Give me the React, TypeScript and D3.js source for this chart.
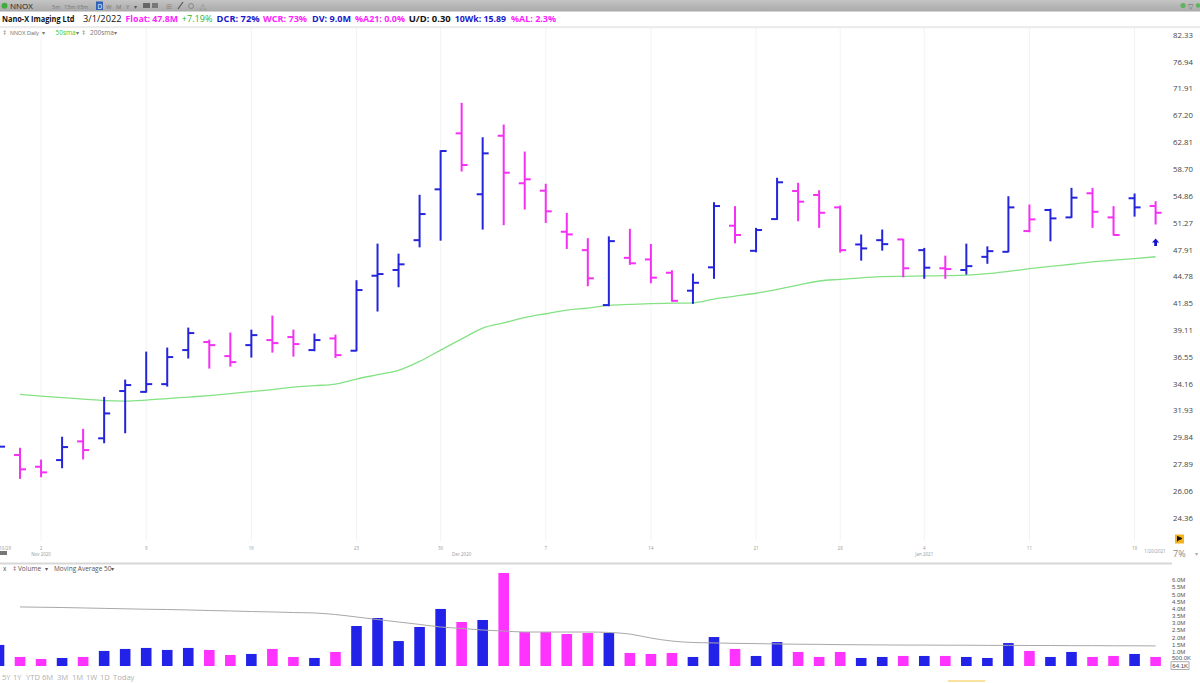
import * as d3 from "d3";

// ---- price pane data (daily bars Oct 29 2020 .. Jan 20 2021)
const priceTicks = [82.33, 76.94, 71.91, 67.2, 62.81, 58.7, 54.86, 51.27, 47.91, 44.78, 41.85, 39.11, 36.55, 34.16, 31.93, 29.84, 27.89, 26.06, 24.36];

const opens = [28.19, 28.55, 27.72, 28.19, 29.55, 29.78, 33.55, 33.48, 34.14, 37.2, 37.96, 36.64, 37.67, 38.15, 38.44, 37.2, 38.31, 37.14, 44.87, 45.52, 49.08, 55.79, 64.25, 55.1, 63.86, 56.65, 55.6, 50.13, 47.86, 41.67, 46.94, 46.75, 45.21, 43.21, 45.83, 50.9, 47.78, 51.76, 55.56, 55.0, 53.31, 48.55, 49.08, 49.17, 47.86, 45.72, 45.52, 47.06, 47.66, 50.22, 52.96, 51.98, 55.24, 51.98, 54.55, 53.49];
const highs = [31.44, 29.04, 28.19, 29.86, 30.46, 33.02, 34.49, 37.01, 37.39, 39.32, 38.15, 38.83, 39.12, 40.53, 39.12, 38.73, 38.63, 44.31, 48.59, 47.38, 54.96, 61.49, 69.3, 63.54, 65.61, 61.29, 56.51, 52.51, 49.27, 49.49, 50.44, 48.55, 45.44, 45.06, 53.94, 53.41, 50.56, 57.37, 56.65, 55.6, 53.49, 49.72, 50.35, 49.17, 48.07, 47.14, 48.59, 48.26, 54.76, 53.63, 53.06, 55.93, 55.93, 53.41, 55.14, 54.08];
const lows = [27.63, 26.92, 27.03, 27.65, 28.27, 29.45, 30.2, 33.46, 33.97, 36.46, 35.55, 35.73, 36.55, 37.01, 36.64, 37.14, 36.52, 37.14, 41.05, 43.64, 48.26, 49.08, 58.43, 50.47, 51.03, 53.09, 51.33, 48.07, 43.75, 41.6, 46.18, 44.08, 42.09, 41.85, 44.58, 48.75, 47.66, 51.72, 51.54, 50.69, 47.62, 46.67, 47.86, 44.76, 44.58, 44.58, 45.06, 46.3, 47.66, 50.13, 49.0, 51.98, 50.69, 49.72, 52.15, 51.12];
const closes = [29.16, 27.54, 27.33, 29.13, 28.91, 31.71, 34.06, 34.14, 36.55, 38.83, 37.67, 36.09, 38.63, 37.86, 37.77, 38.15, 36.73, 43.28, 45.06, 46.18, 52.42, 61.45, 59.32, 61.09, 58.18, 57.22, 52.78, 49.8, 44.58, 48.96, 46.3, 44.65, 42.12, 44.08, 53.49, 49.72, 50.35, 56.79, 54.08, 52.59, 47.86, 48.07, 48.59, 45.72, 45.79, 45.63, 45.97, 47.74, 53.31, 51.72, 51.85, 54.63, 52.72, 49.72, 53.31, 52.59];
const prevClose = 28.4;

const sma50: (number | null)[] = [null, 33.27, 33.13, 33.0, 32.88, 32.75, 32.71, 32.79, 32.92, 33.04, 33.17, 33.33, 33.5, 33.67, 33.89, 34.01, 34.14, 34.58, 34.96, 35.35, 36.15, 37.2, 38.26, 39.32, 39.84, 40.37, 40.77, 41.15, 41.36, 41.64, 41.74, 41.82, 41.87, 41.91, 42.31, 42.62, 42.93, 43.36, 43.82, 44.28, 44.46, 44.62, 44.77, 44.8, 44.85, 44.88, 44.93, 45.1, 45.37, 45.67, 45.95, 46.19, 46.47, 46.66, 46.86, 47.07];

// ---- volume pane data (millions)
const volumes = [1.47, 0.63, 0.49, 0.56, 0.63, 1.05, 1.19, 1.26, 1.12, 1.26, 1.12, 0.77, 0.84, 1.19, 0.63, 0.56, 0.98, 2.79, 3.35, 1.74, 2.72, 3.98, 3.07, 3.21, 6.49, 2.37, 2.37, 2.23, 2.3, 2.3, 0.91, 0.84, 0.91, 0.63, 2.02, 1.19, 0.7, 1.67, 0.98, 0.63, 0.98, 0.56, 0.63, 0.7, 0.7, 0.7, 0.63, 0.56, 1.6, 1.05, 0.63, 0.98, 0.63, 0.7, 0.84, 0.63];
const volMa50: (number | null)[] = [null, 4.12, 4.1, 4.08, 4.05, 4.02, 3.99, 3.96, 3.94, 3.91, 3.87, 3.84, 3.8, 3.77, 3.73, 3.7, 3.59, 3.42, 3.24, 3.07, 2.9, 2.72, 2.62, 2.51, 2.44, 2.37, 2.37, 2.37, 2.37, 2.34, 2.23, 1.95, 1.74, 1.64, 1.61, 1.58, 1.56, 1.54, 1.52, 1.51, 1.49, 1.48, 1.47, 1.46, 1.46, 1.45, 1.45, 1.44, 1.44, 1.43, 1.43, 1.42, 1.42, 1.41, 1.41, 1.4];
const volTicks = [6.0, 5.5, 5.0, 4.5, 4.0, 3.5, 3.0, 2.5, 2.0, 1.5, 1.0, 0.5];
const volTickLabels = ["6.0M", "5.5M", "5.0M", "4.5M", "4.0M", "3.5M", "3.0M", "2.5M", "2.0M", "1.5M", "1.0M", "500.0K"];

// ---- date axis
const dayTickIdx = [2, 7, 12, 17, 21, 26, 31, 36, 40, 44, 49, 54];
const dayTickLabels = ["2", "9", "16", "23", "30", "7", "14", "21", "28", "4", "11", "19"];
const monthIdx = [2, 22, 44];
const monthLabels = ["Nov 2020", "Dec 2020", "Jan 2021"];
const timeframes = ["5Y", "1Y", "YTD", "6M", "3M", "1M", "1W", "1D", "Today"];

const BLUE = "#2424dc";
const PINK = "#f52ff5";
const VBLUE = "#2222e8";
const VPINK = "#ff33ff";
const FONT = "'Open Sans', 'Noto Sans', sans-serif";
const TIGHT = "'Liberation Sans', Arial, sans-serif";

export default function App() {
  const x = d3.scaleLinear().domain([0, 55]).range([-1, 1155.6]);
  const y = d3.scaleLog().domain([24.36, 82.33]).range([518, 35]);
  const vy = d3.scaleLinear().domain([0, 6]).range([666, 580]);

  const up = closes.map((c, i) => c >= (i === 0 ? prevClose : closes[i - 1]));

  const smaLine = d3
    .line<number | null>()
    .defined((d) => d != null)
    .x((_, i) => x(i))
    .y((d) => y(d as number))
    .curve(d3.curveMonotoneX);

  const volLine = d3
    .line<number | null>()
    .defined((d) => d != null)
    .x((_, i) => x(i))
    .y((d) => vy(d as number))
    .curve(d3.curveMonotoneX);

  const tk = 6; // OHLC tick length
  const ax = 1173;
  const arrowX = x(55);

  return (
    <div style={{ position: "absolute", left: 0, top: 0 }}>
      <svg width={1200} height={683} style={{ display: "block", background: "#fff", fontFamily: FONT }}>
        <defs>
          <linearGradient id="tb" x1="0" y1="0" x2="0" y2="1">
            <stop offset="0%" stopColor="#c4c4c4" />
            <stop offset="100%" stopColor="#a9a9a9" />
          </linearGradient>
          <clipPath id="pane">
            <rect x={0} y={27} width={1170} height={514} />
          </clipPath>
        </defs>

        {/* toolbar */}
        <rect x={0} y={0} width={1200} height={11.5} fill="url(#tb)" />
        <circle cx={4.5} cy={5.7} r={3} fill="#3fae3f" />
        <text x={10} y={8.8} fontSize={8} fill="#222">NNOX</text>
        <text x={52} y={8.5} fontSize={5.5} fill="#777">5m</text>
        <text x={64} y={8.5} fontSize={5.5} fill="#777">15m</text>
        <text x={77} y={8.5} fontSize={5.5} fill="#777">65m</text>
        <rect x={96} y={1.5} width={7} height={8.5} fill="#2f62b8" />
        <text x={97.5} y={8.6} fontSize={6.5} fill="#fff">D</text>
        <text x={106} y={8.5} fontSize={6} fill="#777">W</text>
        <text x={116} y={8.5} fontSize={6} fill="#777">M</text>
        <text x={126} y={8.5} fontSize={6} fill="#777">Y</text>
        <text x={134} y={8.5} fontSize={6} fill="#555">▾</text>
        <rect x={143} y={3} width={7} height={5} fill="#666" />
        <rect x={152} y={3} width={6} height={5} fill="#777" />
        <text x={166} y={9} fontSize={7} fill="#888">⊞</text>
        <line x1={178} y1={9} x2={183} y2={2} stroke="#555" strokeWidth={1.2} />
        <circle cx={191} cy={6} r={2.5} fill="none" stroke="#888" />
        <text x={199} y={9} fontSize={7} fill="#999">⁂</text>
        <circle cx={1183} cy={5.5} r={2.6} fill="#5fb35f" />
        <text x={1188} y={8.5} fontSize={7} fill="#666">▽</text>
        <circle cx={1198} cy={5.5} r={2.2} fill="#5fb35f" />

        {/* header line */}
        <g fontWeight={700}>
          <text x={2} y={21.5} fontSize={8.6} fill="#111" textLength={72.5} lengthAdjust="spacingAndGlyphs">Nano-X Imaging Ltd</text>
          <text x={83} y={22} fontSize={9.8} fontWeight={500} fill="#111" textLength={38.5} lengthAdjust="spacingAndGlyphs">3/1/2022</text>
          <text x={125.5} y={21.8} fontSize={9.5} fill="#ff22ff" textLength={52.5} lengthAdjust="spacingAndGlyphs">Float: 47.8M</text>
          <text x={181.8} y={21.8} fontSize={9.5} fontWeight={500} fill="#32b432" textLength={30.6} lengthAdjust="spacingAndGlyphs">+7.19%</text>
          <text x={216.6} y={21.8} fontSize={9.5} fill="#1a1acc" textLength={43} lengthAdjust="spacingAndGlyphs">DCR: 72%</text>
          <text x={263} y={21.8} fontSize={9.5} fill="#ff22ff" textLength={44} lengthAdjust="spacingAndGlyphs">WCR: 73%</text>
          <text x={312} y={21.8} fontSize={9.5} fill="#1a1acc" textLength={39} lengthAdjust="spacingAndGlyphs">DV: 9.0M</text>
          <text x={355} y={21.8} fontSize={9.5} fill="#ff22ff" textLength={50} lengthAdjust="spacingAndGlyphs">%A21: 0.0%</text>
          <text x={408.7} y={21.8} fontSize={9.5} fill="#111" textLength={42} lengthAdjust="spacingAndGlyphs">U/D: 0.30</text>
          <text x={454.7} y={21.8} fontSize={9.5} fill="#1a1acc" textLength={51.3} lengthAdjust="spacingAndGlyphs">10Wk: 15.89</text>
          <text x={511} y={21.8} fontSize={9.5} fill="#ff22ff" textLength={45} lengthAdjust="spacingAndGlyphs">%AL: 2.3%</text>
        </g>
        <rect x={0} y={26} width={1200} height={2.2} fill="#ececec" />

        {/* legend line */}
        <g fontSize={6.5} fill="#777">
          <text x={3} y={34.5}>‡</text>
          <text x={10} y={34.5} fontSize={5.4} fontFamily={TIGHT}>NNOX Daily</text>
          <text x={41.5} y={34.5} fontSize={5.5}>▾</text>
          <text x={55.5} y={34.5} fill="#33cc33">50sma</text>
          <text x={75.5} y={34.5} fontSize={5.5}>▾</text>
          <text x={82} y={34.5}>‡</text>
          <text x={90} y={34.5}>200sma</text>
          <text x={114} y={34.5} fontSize={5.5}>▾</text>
        </g>

        {/* faint vertical grid at date ticks */}
        {dayTickIdx.map((d) => (
          <line key={"g" + d} x1={x(d)} x2={x(d)} y1={28} y2={541} stroke="#f3f3f3" strokeWidth={1} />
        ))}

        <g clipPath="url(#pane)">
          {/* 50 sma */}
          <path d={smaLine(sma50) ?? ""} fill="none" stroke="#84e284" strokeWidth={1.3} />

          {/* OHLC bars */}
          {closes.map((c, i) => {
            const cx = x(i);
            const col = up[i] ? BLUE : PINK;
            return (
              <g key={"b" + i} stroke={col} strokeWidth={2}>
                <line x1={cx} x2={cx} y1={y(highs[i]) - 0.5} y2={y(lows[i]) + 0.5} />
                <line x1={cx - tk} x2={cx} y1={y(opens[i])} y2={y(opens[i])} />
                <line x1={cx} x2={cx + tk} y1={y(c)} y2={y(c)} />
              </g>
            );
          })}
        </g>

        {/* buy arrow under last bar */}
        <path
          d={`M${arrowX},238.5 L${arrowX + 3.6},242.5 L${arrowX + 1.4},242.5 L${arrowX + 1.4},246 L${arrowX - 1.4},246 L${arrowX - 1.4},242.5 L${arrowX - 3.6},242.5 Z`}
          fill="#1515d0"
        />

        {/* price axis */}
        <g fontSize={7.8} fill="#444">
          {priceTicks.map((p) => (
            <text key={"p" + p} x={ax} y={y(p) + 2.8}>
              {p.toFixed(2)}
            </text>
          ))}
        </g>

        {/* date axis */}
        <g fontSize={4.5} fill="#999" textAnchor="middle">
          {dayTickIdx.map((d, k) => (
            <text key={"d" + d} x={x(d)} y={550}>
              {dayTickLabels[k]}
            </text>
          ))}
          {monthIdx.map((d, k) => (
            <text key={"m" + d} x={x(d)} y={556}>
              {monthLabels[k]}
            </text>
          ))}
          <text x={5} y={549.5}>10/29</text>
          <text x={1155} y={553}>1/20/2021</text>
        </g>
        <rect x={0} y={551} width={7} height={4} fill="#777" />
        <rect x={1175} y={534.5} width={9} height={9} fill="#f7b31b" />
        <path d="M1177.5,536.5 L1177.5,541.5 M1177.5,536.5 L1182,538.5 L1177.5,540.5 Z" stroke="#111" strokeWidth={0.9} fill="#111" />
        <text x={1173} y={557} fontSize={9} fill="#888">7%</text>
        <text x={1195} y={556} fontSize={6} fill="#aaa">▾</text>

        {/* pane separator */}
        <rect x={0} y={562.5} width={1172} height={2} fill="#d8d8d8" />

        {/* volume header */}
        <g fontSize={6.5} fill="#555">
          <text x={3} y={571}>x</text>
          <text x={13} y={571}>‡ Volume</text>
          <text x={45} y={571} fontSize={5.5}>▾</text>
          <text x={54} y={571}>Moving Average 50</text>
          <text x={111} y={571} fontSize={5.5}>▾</text>
        </g>

        {/* volume bars */}
        {volumes.map((v, i) => (
          <rect
            key={"v" + i}
            x={x(i) - 5.3}
            y={vy(v)}
            width={10.6}
            height={vy(0) - vy(v)}
            fill={up[i] ? VBLUE : VPINK}
          />
        ))}
        <path d={volLine(volMa50) ?? ""} fill="none" stroke="#a8a8a8" strokeWidth={1} />

        {/* volume axis */}
        <g fontSize={6} fill="#555" fontFamily={TIGHT}>
          {volTicks.map((v, k) => (
            <text key={"vt" + v} x={1172} y={vy(v) + 2.2 - (v === 0.5 ? 0.8 : 0)}>
              {volTickLabels[k]}
            </text>
          ))}
          <rect x={1171} y={661.8} width={18} height={7.5} fill="#fff" stroke="#777" strokeWidth={0.6} />
          <text x={1172.3} y={667.8} fill="#444">64.1K</text>
        </g>

        {/* timeframe buttons */}
        <g fontSize={7.6} fill="#b0b0b0">
          {timeframes.map((t, k) => (
            <text key={t} x={[2, 13, 26, 42, 57, 72, 86, 100, 113][k]} y={679.5}>
              {t}
            </text>
          ))}
        </g>
        <line x1={948} x2={985} y1={681} y2={681} stroke="#f4c542" strokeWidth={1.2} />
      </svg>
    </div>
  );
}
